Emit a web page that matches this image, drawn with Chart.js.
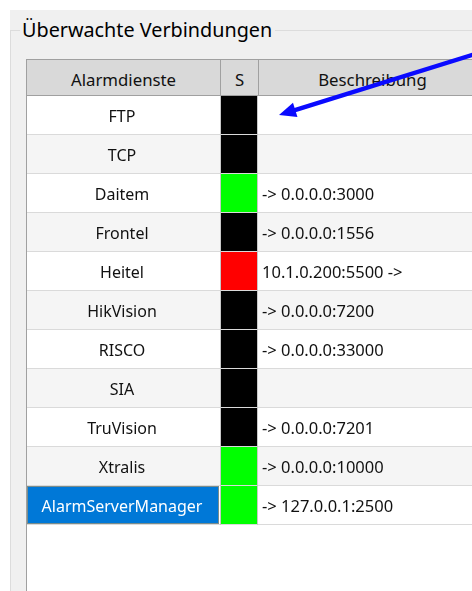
<!DOCTYPE html>
<html><head><meta charset="utf-8">
<script src="https://cdn.jsdelivr.net/npm/chart.js@4.4.1/dist/chart.umd.min.js"></script>
<style>
html,body{margin:0;padding:0;background:#fff;width:472px;height:591px;overflow:hidden;font-family:'Noto Sans',sans-serif;}
#panel{position:absolute;left:10px;top:10px;width:462px;height:581px;background:#f0f0f0;}
#gb{position:absolute;left:10px;top:30px;width:462px;height:561px;border-left:1px solid #dcdcdc;border-top:1px solid #dcdcdc;box-sizing:border-box;}
#title{position:absolute;left:20px;top:20px;padding:0 3px 0 2px;background:#f0f0f0;font-size:19.8px;line-height:19.5px;color:#000;white-space:nowrap;}
#table{position:absolute;left:26px;top:59px;width:446px;height:532px;background:#fff;border-left:1px solid #a0a0a0;border-top:1px solid #a0a0a0;box-sizing:border-box;}
.hd{position:absolute;top:60px;height:36px;box-sizing:border-box;background:#d9d9d9;border-right:1px solid #a0a0a0;border-bottom:1px solid #a0a0a0;font-size:16.8px;line-height:40px;text-align:center;color:#111;white-space:nowrap;overflow:hidden;}
canvas{position:absolute;left:0;top:0;}
</style></head>
<body>
<div id="panel"></div>
<div id="gb"></div>
<div id="title">Überwachte Verbindungen</div>
<div id="table"></div>
<div id="h0" class="hd" style="left:27px;width:194px;"></div>
<div id="h1" class="hd" style="left:221px;width:38px;"></div>
<div id="h2" class="hd" style="left:259px;width:228px;"></div>
<canvas id="c" width="472" height="591"></canvas>
<script>
const columns = ['Alarmdienste', 'S', 'Beschreibung'];
const services = ['FTP', 'TCP', 'Daitem', 'Frontel', 'Heitel', 'HikVision', 'RISCO', 'SIA', 'TruVision', 'Xtralis', 'AlarmServerManager'];
const states = ['off', 'off', 'on', 'off', 'fault', 'off', 'off', 'off', 'off', 'on', 'on'];
const descriptions = ['', '', '-> 0.0.0.0:3000', '-> 0.0.0.0:1556', '10.1.0.200:5500 ->', '-> 0.0.0.0:7200', '-> 0.0.0.0:33000', '', '-> 0.0.0.0:7201', '-> 0.0.0.0:10000', '-> 127.0.0.1:2500'];
const stateColors = {off: '#000000', on: '#00ff00', fault: '#ff0000'};
const selectedRow = 10;
const cellSpan = [0, 1];

columns.forEach((t, i) => { document.getElementById('h' + i).textContent = t; });

const FONT = {family: "'Noto Sans', sans-serif", size: 16};
const FONT2 = {family: "'Noto Sans', sans-serif", size: 16.5};
const LEFT_W = 193, RIGHT_W = 214, PAD_L = 27;
const colCenter = 122;

// measure widest service label to centre the left axis labels in their column
const mctx = document.createElement('canvas').getContext('2d');
mctx.font = FONT.size + "px 'Noto Sans', sans-serif";
const widest = Math.max(...services.map(s => mctx.measureText(s).width));
const leftPad = (PAD_L + LEFT_W - colCenter) - widest / 2;

const tablePlugin = {
  id: 'tablePlugin',
  beforeDraw(chart) {
    const {ctx, scales: {y, y2}} = chart;
    const x0 = y.left, x1 = y2.right;
    const h = y.getPixelForValue(1) - y.getPixelForValue(0);
    services.forEach((s, i) => {
      const top = y.getPixelForValue(i) - h / 2;
      ctx.fillStyle = i % 2 ? '#f5f5f5' : '#ffffff';
      ctx.fillRect(x0, top, x1 - x0, h);
      if (i === selectedRow) {
        ctx.fillStyle = '#0078d7';
        ctx.fillRect(y.left, top, y.right - y.left - 1, h - 1);
      }
    });
  },
  afterDatasetsDraw(chart) {
    const {ctx, chartArea, scales: {y, y2}} = chart;
    const x0 = y.left, x1 = y2.right;
    const h = y.getPixelForValue(1) - y.getPixelForValue(0);
    ctx.save();
    ctx.lineWidth = 1;
    ctx.strokeStyle = '#dadada';
    services.forEach((s, i) => {
      const bottom = Math.round(y.getPixelForValue(i) + h / 2) - 0.5;
      ctx.beginPath(); ctx.moveTo(x0, bottom); ctx.lineTo(x1, bottom); ctx.stroke();
    });
    const top = y.getPixelForValue(0) - h / 2;
    const bot = y.getPixelForValue(services.length - 1) + h / 2;
    ctx.strokeStyle = '#c8c8c8';
    [chartArea.left + 0.5, chartArea.right - 0.5].forEach(xx => {
      ctx.beginPath(); ctx.moveTo(xx, top); ctx.lineTo(xx, bot); ctx.stroke();
    });
    // focus rectangle on selected cell
    const st = y.getPixelForValue(selectedRow) - h / 2;
    ctx.strokeStyle = '#f0a040';
    ctx.setLineDash([1, 1]);
    ctx.strokeRect(y.left + 0.5, st + 0.5, y.right - y.left - 2, h - 2);
    ctx.restore();
  },
  afterDraw(chart) {
    const {ctx, chartArea, scales: {y}} = chart;
    const tip = {x: chartArea.right + 21, y: y.getPixelForValue(0) - 0.5};
    const dx = 193, dy = -60;
    const len = Math.hypot(dx, dy), ux = dx / len, uy = dy / len;
    const headL = 17, headW = 7.5;
    const bx = tip.x + ux * headL, by = tip.y + uy * headL;
    ctx.save();
    ctx.strokeStyle = '#0a0aff';
    ctx.fillStyle = '#0a0aff';
    ctx.lineWidth = 4.5;
    ctx.beginPath();
    ctx.moveTo(bx - ux * 2, by - uy * 2);
    ctx.lineTo(tip.x + dx * 1.2, tip.y + dy * 1.2);
    ctx.stroke();
    ctx.beginPath();
    ctx.moveTo(tip.x, tip.y);
    ctx.lineTo(bx - uy * headW, by + ux * headW);
    ctx.lineTo(bx + uy * headW, by - ux * headW);
    ctx.closePath();
    ctx.fill();
    ctx.restore();
  }
};

new Chart(document.getElementById('c'), {
  type: 'bar',
  data: {
    labels: services,
    datasets: [{
      data: services.map(() => cellSpan),
      backgroundColor: states.map(s => stateColors[s]),
      borderWidth: 0,
      categoryPercentage: 1,
      barPercentage: 1
    }]
  },
  options: {
    indexAxis: 'y',
    responsive: false,
    animation: false,
    devicePixelRatio: 1,
    layout: {padding: {left: PAD_L, top: 96, right: 0, bottom: 66}},
    plugins: {legend: {display: false}, tooltip: {enabled: false}},
    scales: {
      x: {display: false, min: 0, max: 1},
      y: {
        type: 'category', position: 'left', offset: true,
        grid: {display: false, drawTicks: false}, border: {display: false},
        afterFit(s) { s.width = LEFT_W; },
        ticks: {
          autoSkip: false, crossAlign: 'center', padding: leftPad, font: FONT, labelOffset: 2,
          color: (c) => c.index === selectedRow ? '#ffffff' : '#111111'
        }
      },
      y2: {
        type: 'category', position: 'right', offset: true, labels: descriptions,
        grid: {display: false, drawTicks: false}, border: {display: false},
        afterFit(s) { s.width = RIGHT_W; },
        ticks: {autoSkip: false, crossAlign: 'near', padding: 4, font: FONT2, labelOffset: 2, color: '#111111'}
      }
    }
  },
  plugins: [tablePlugin]
});
</script>
</body></html>
